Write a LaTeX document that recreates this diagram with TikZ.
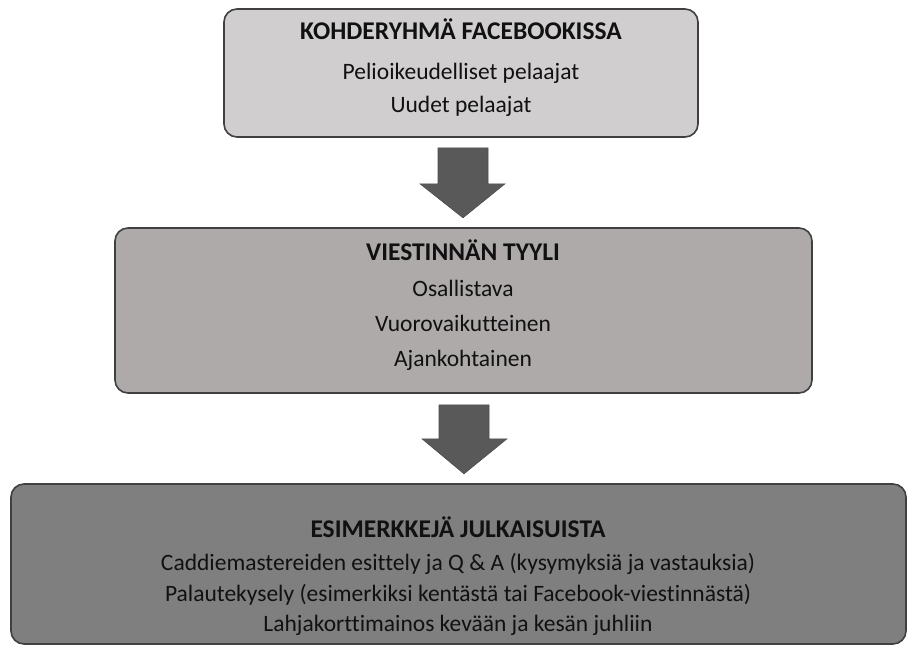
\documentclass[tikz,border=0pt]{standalone}
\usepackage{fontspec}
\setmainfont{Carlito}[Ligatures=NoCommon]
\usetikzlibrary{calc}
\definecolor{boxA}{HTML}{D0CECE}
\definecolor{boxB}{HTML}{AEAAAA}
\definecolor{boxC}{HTML}{7F7F7F}
\definecolor{arrowc}{HTML}{595959}
\definecolor{edgec}{HTML}{404040}
\definecolor{txt}{HTML}{111111}
\begin{document}
\begin{tikzpicture}[x=1pt,y=-1pt,
  box/.style={draw=edgec, line width=1.6pt, rounded corners=13pt, inner sep=0pt},
  ttl/.style={anchor=base, inner sep=0pt, text=txt, font=\fontsize{25.5}{30}\selectfont\bfseries},
  body/.style={anchor=base, inner sep=0pt, text=txt, font=\fontsize{23.5}{28}\selectfont},
  blockarrow/.style={fill=arrowc, draw=arrowc!85!black, line width=0.6pt, line join=miter}]
\useasboundingbox (0,0) rectangle (908,646);
% boxes
\node[box, fill=boxA, minimum width=474pt, minimum height=128pt] (b1) at (461,73) {};
\node[box, fill=boxB, minimum width=697pt, minimum height=165pt] (b2) at (463.5,310.5) {};
\node[box, fill=boxC, minimum width=895pt, minimum height=160pt] (b3) at (458.5,564) {};
% texts box 1
\node[ttl] (t1) at (461,39) {KOHDERYHMÄ FACEBOOKISSA};
\node[body] (t1a) at (461,79) {Pelioikeudelliset pelaajat};
\node[body] (t1b) at (461,112) {Uudet pelaajat};
% texts box 2
\node[ttl] (t2) at (463,260) {VIESTINNÄN TYYLI};
\node[body] (t2a) at (463,296) {Osallistava};
\node[body] (t2b) at (463,331) {Vuorovaikutteinen};
\node[body] (t2c) at (463,366) {Ajankohtainen};
% texts box 3
\node[ttl] (t3) at (458,537) {ESIMERKKEJÄ JULKAISUISTA};
\node[body] (t3a) at (458,570) {Caddiemastereiden esittely ja Q \& A (kysymyksiä ja vastauksia)};
\node[body] (t3b) at (458,601) {Palautekysely (esimerkiksi kentästä tai Facebook-viestinnästä)};
\node[body] (t3c) at (458,631) {Lahjakorttimainos kevään ja kesän juhliin};
% block arrows between boxes
\coordinate (a1) at ($(b1.south)+(2,10)$);
\coordinate (a2) at ($(b2.south)+(0.5,11)$);
\fill[blockarrow] ($(a1)+(-25,0)$) -- ($(a1)+(25,0)$) -- ($(a1)+(25,36)$) -- ($(a1)+(42,36)$)
  -- ($(a1)+(0,70)$) -- ($(a1)+(-43,36)$) -- ($(a1)+(-25,36)$) -- cycle;
\fill[blockarrow] ($(a2)+(-25,0)$) -- ($(a2)+(25,0)$) -- ($(a2)+(25,34)$) -- ($(a2)+(43,34)$)
  -- ($(a2)+(0,69)$) -- ($(a2)+(-42,34)$) -- ($(a2)+(-25,34)$) -- cycle;
\end{tikzpicture}
\end{document}
